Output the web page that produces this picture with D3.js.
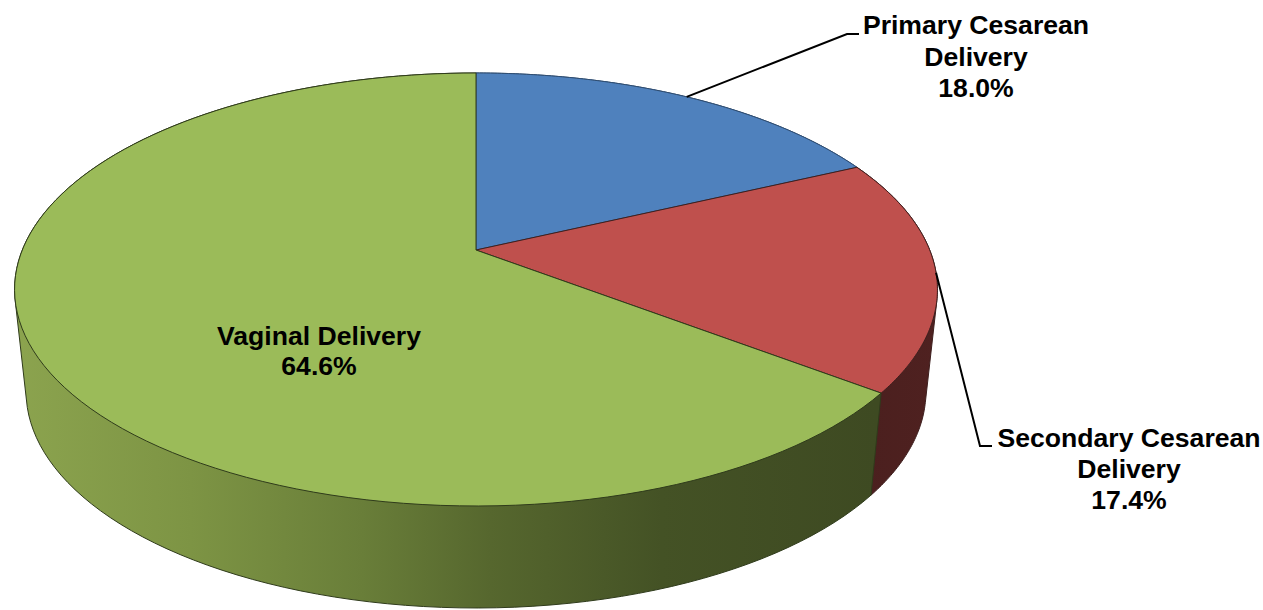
<!DOCTYPE html>
<html>
<head>
<meta charset="utf-8">
<script src="https://cdn.jsdelivr.net/npm/d3@7"></script>
<style>
  body { margin: 0; background: #fff; }
  svg { display: block; }
  text { font-family: "Liberation Sans", Arial, sans-serif; font-weight: bold; font-size: 26.6px; fill: #000; text-anchor: middle; }
</style>
</head>
<body>
<svg width="1263" height="610"></svg>
<script>
const categories = ["Primary Cesarean Delivery", "Secondary Cesarean Delivery", "Vaginal Delivery"];
const shares = [18.0, 17.4, 64.6];
const topColors = ["#4f81bd", "#bf504d", "#9bbb59"];
const rimColors = ["#2f4d71", "#3e1f1e", "#2f3b1b"];
const sideStops = [
  ["url(#sideBlue)", [[0, "#2f4d71"], [1, "#2f4d71"]]],
  ["url(#sideRed)", [[0, "#4a1f1e"], [1, "#4f2120"]]],
  ["url(#sideGreen)", [[0, "#8ba34e"], [0.2, "#7d9444"], [0.4, "#697e39"], [0.55, "#56672e"], [0.75, "#445225"], [1, "#3e4a22"]]]
];
const labelLines = [["Primary Cesarean", "Delivery", "18.0%"], ["Secondary Cesarean", "Delivery", "17.4%"], ["Vaginal Delivery", "64.6%"]];

const svg = d3.select("svg");

// tilted disc: circle seen in perspective, slices meet at (476,250)
const cx = 476, cy = 250, ax = 453.7, ay = 209.3, k = 0.1824;
const depth = 102, shrink = 0.975;

function project(angle) {
  const u = Math.sin(angle), v = Math.cos(angle), w = 1 + k * v;
  return [cx + ax * u / w, cy - ay * v / w];
}
function projectBottom(angle) {
  const p = project(angle);
  return [cx + (p[0] - cx) * shrink, p[1] + depth];
}

const slices = d3.pie().sort(null)(shares);
const line = d3.line();

function arcPoints(a0, a1, fn) {
  return d3.range(0, 121).map(i => fn(a0 + (a1 - a0) * i / 120));
}

const defs = svg.append("defs");
["sideBlue", "sideRed", "sideGreen"].forEach((id, i) => {
  const grad = defs.append("linearGradient").attr("id", id);
  if (id == "sideGreen") grad.attr("gradientUnits", "userSpaceOnUse").attr("x1", 20).attr("x2", 875).attr("y1", 0).attr("y2", 0);
  grad.selectAll("stop").data(sideStops[i][1]).enter().append("stop")
    .attr("offset", d => d[0])
    .attr("stop-color", d => d[1]);
});

// sides first, hull of both rims; the top faces cover whatever is behind them
svg.append("g").selectAll("path")
  .data(slices)
  .enter()
  .append("path")
  .attr("fill", (d, i) => sideStops[i][0])
  .attr("stroke", (d, i) => rimColors[i])
  .attr("stroke-width", 1)
  .attr("d", d => line(d3.polygonHull(arcPoints(d.startAngle, d.endAngle, project)
    .concat(arcPoints(d.endAngle, d.startAngle, projectBottom)))) + "Z");

svg.append("g").selectAll("path")
  .data(slices)
  .enter()
  .append("path")
  .attr("fill", (d, i) => topColors[i])
  .attr("stroke", (d, i) => rimColors[i])
  .attr("stroke-width", 1)
  .attr("d", d => line([[cx, cy]].concat(arcPoints(d.startAngle, d.endAngle, project))) + "Z");

// leader lines start at the middle of the slice rim
const mid = d => (d.startAngle + d.endAngle) / 2;
svg.append("path")
  .attr("fill", "none").attr("stroke", "#000").attr("stroke-width", 2)
  .attr("d", line([project(mid(slices[0])), [847, 34], [859, 34]]));
svg.append("path")
  .attr("fill", "none").attr("stroke", "#000").attr("stroke-width", 2)
  .attr("d", line([project(mid(slices[1])), [980, 446], [992, 446]]));

const labelPos = [[976, 34], [1129, 447], [319, 345]];
const labelStep = [31.5, 31, 30];
labelLines.forEach((lines, i) => {
  const t = svg.append("text").attr("aria-label", categories[i]);
  lines.forEach((s, j) => {
    t.append("tspan").attr("x", labelPos[i][0]).attr("y", labelPos[i][1] + j * labelStep[i]).text(s);
  });
});
</script>
</body>
</html>
